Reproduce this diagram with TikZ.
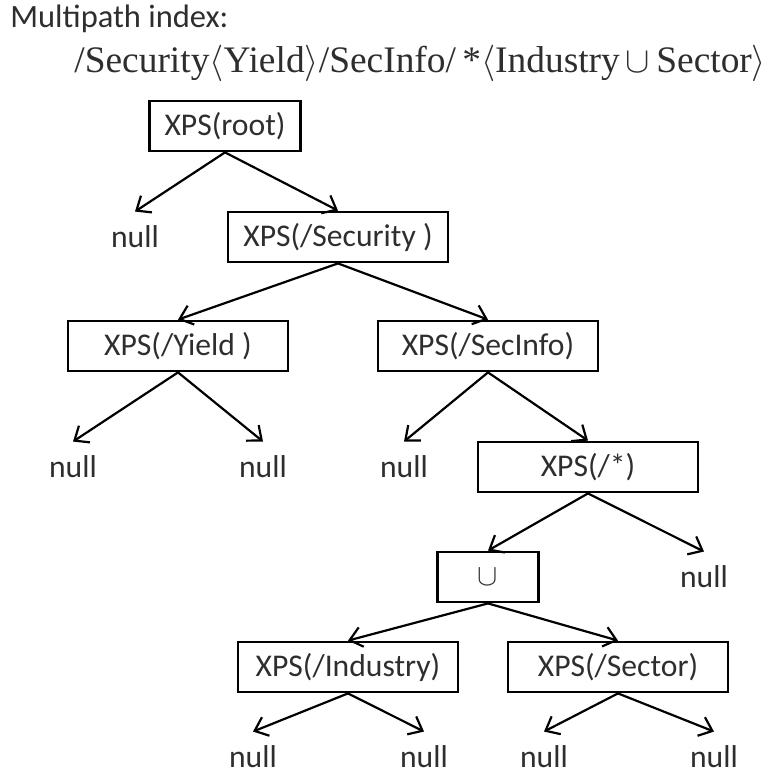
\documentclass[tikz,border=0pt]{standalone}
\usepackage{fontspec}
\setmainfont{Carlito}
\newfontfamily\formulafont{Liberation Serif}
\usetikzlibrary{arrows.meta}
\begin{document}
\begin{tikzpicture}[x=0.02cm, y=-0.02cm,
  every node/.style={font=\fontsize{18}{21}\selectfont, text=black!82},
  xps/.style={draw=black, line width=1.6pt, minimum height=1cm, minimum width=4.4cm, inner sep=0pt},
  leaf/.style={inner sep=0.28cm},
  link/.style={-{Straight Barb[length=0.24cm,width=0.4cm]}, line width=1.25pt}]
  \useasboundingbox (0,0) rectangle (775,774);
  \node[anchor=base west, inner sep=0, font=\fontsize{18.5}{22}\selectfont] (title) at (10,28) {Multipath index:};
  \node[anchor=base west, inner sep=0, font=\formulafont\fontsize{21.3}{31}\selectfont] (path) at (74,72)
    {/Security$\big\langle$Yield$\big\rangle$/SecInfo/\,*$\big\langle$Industry$\,\cup\,$Sector$\big\rangle$};
  \node[xps, minimum width=3.02cm] (root) at (225,126) {XPS(root)};
  \node[leaf] (nullA) at (135,237) {null};
  \node[xps] (security) at (338,237) {XPS(/Security )};
  \node[xps] (yield) at (178,346) {XPS(/Yield )};
  \node[xps] (secinfo) at (488,346) {XPS(/SecInfo)};
  \node[leaf] (nullB) at (73,467) {null};
  \node[leaf] (nullC) at (263,467) {null};
  \node[leaf] (nullD) at (404,467) {null};
  \node[xps] (star) at (588,467) {XPS(/*)};
  \node[xps, minimum width=2.02cm] (union) at (488,577) {$\cup$};
  \node[leaf] (nullE) at (704,577) {null};
  \node[xps] (industry) at (348,667) {XPS(/Industry)};
  \node[xps] (sector) at (618,667) {XPS(/Sector)};
  \node[leaf] (nullF) at (253,757) {null};
  \node[leaf] (nullG) at (424,757) {null};
  \node[leaf] (nullH) at (544,757) {null};
  \node[leaf] (nullI) at (714,757) {null};
  \foreach \a/\b in {root/nullA, root/security, security/yield, security/secinfo,
                     yield/nullB, yield/nullC, secinfo/nullD, secinfo/star,
                     star/union, star/nullE, union/industry, union/sector,
                     industry/nullF, industry/nullG, sector/nullH, sector/nullI}
    \draw[link] (\a.south) -- (\b.north);
\end{tikzpicture}
\end{document}
